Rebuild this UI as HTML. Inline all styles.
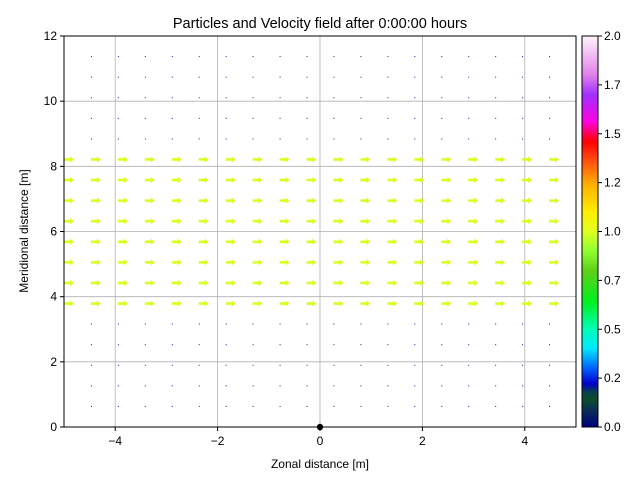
<!DOCTYPE html>
<html><head><meta charset="utf-8"><style>
html,body{margin:0;padding:0;background:#fff;}
svg{display:block;font-family:"Liberation Sans","DejaVu Sans",sans-serif;}
</style></head><body>
<svg id="chart" width="640" height="480" viewBox="0 0 640 480">
<defs>
<linearGradient id="cmap" x1="0" y1="1" x2="0" y2="0">
<stop offset="0" stop-color="#000080"/>
<stop offset="0.04" stop-color="#0b2a5a"/>
<stop offset="0.07" stop-color="#0b4d2a"/>
<stop offset="0.09" stop-color="#0a3f4f"/>
<stop offset="0.11" stop-color="#0000c8"/>
<stop offset="0.15" stop-color="#0060ff"/>
<stop offset="0.2" stop-color="#00e8ff"/>
<stop offset="0.25" stop-color="#00ffb8"/>
<stop offset="0.32" stop-color="#00f020"/>
<stop offset="0.4" stop-color="#5fd018"/>
<stop offset="0.45" stop-color="#90ff30"/>
<stop offset="0.5" stop-color="#e0ff20"/>
<stop offset="0.55" stop-color="#ffee00"/>
<stop offset="0.62" stop-color="#ffb000"/>
<stop offset="0.68" stop-color="#ff5010"/>
<stop offset="0.73" stop-color="#ff0000"/>
<stop offset="0.78" stop-color="#ff00e0"/>
<stop offset="0.85" stop-color="#a030ff"/>
<stop offset="0.9" stop-color="#e080e8"/>
<stop offset="1" stop-color="#fff4fc"/>
</linearGradient>
</defs>
<text x="320" y="28" font-size="14.5" text-anchor="middle">Particles and Velocity field after 0:00:00 hours</text>
<g id="grid"></g>
<g id="marks"></g>
<rect x="64" y="36" width="512" height="391" fill="none" stroke="#000" stroke-width="1"/>
<g id="ticks" font-size="12"></g>
<text x="320" y="468" font-size="12" text-anchor="middle">Zonal distance [m]</text>
<text x="28" y="231" font-size="12" text-anchor="middle" transform="rotate(-90 28 231)">Meridional distance [m]</text>
<rect x="582" y="36" width="16" height="391" fill="url(#cmap)" stroke="#000" stroke-width="1"/>
<g id="cbticks" font-size="12"></g>
</svg>
<script>
const xTicks=[-4,-2,0,2,4];
const yTicks=[0,2,4,6,8,10,12];
const cbTicks=["2.0","1.7","1.5","1.2","1.0","0.7","0.5","0.2","0.0"];
const cbVals=[2.0,1.75,1.5,1.25,1.0,0.75,0.5,0.25,0.0];
const nCols=19, nRows=19;
const fastRows=[6,7,8,9,10,11,12,13];
const fastSpeed=1.0;
const particleX=[0], particleY=[0];
const NS="http://www.w3.org/2000/svg";
const X0=64,X1=576,Y0=427,Y1=36;
const sx=v=>X0+(v+5)/10*(X1-X0);
const sy=v=>Y0-v/12*(Y0-Y1);
function mk(t,a,p){const e=document.createElementNS(NS,t);for(const k in a)e.setAttribute(k,a[k]);p.appendChild(e);return e;}
const grid=document.getElementById('grid'),marks=document.getElementById('marks'),ticks=document.getElementById('ticks'),cb=document.getElementById('cbticks');
xTicks.forEach(v=>{
 const l=mk('line',{x1:sx(v),x2:sx(v),y1:Y1,y2:Y0,stroke:'#b0b0b0','stroke-width':0.8},grid);
 
 
 mk('line',{x1:sx(v),x2:sx(v),y1:Y0,y2:Y0+4,stroke:'#000'},ticks);
 const t=mk('text',{x:sx(v),y:Y0+18,'text-anchor':'middle'},ticks);t.textContent=(v<0?'\u2212'+(-v):v);
 
 
});
yTicks.forEach(v=>{
 const l=mk('line',{x1:X0,x2:X1,y1:sy(v),y2:sy(v),stroke:'#b0b0b0','stroke-width':0.8},grid);
 
 
 mk('line',{x1:X0-4,x2:X0,y1:sy(v),y2:sy(v),stroke:'#000'},ticks);
 const t=mk('text',{x:X0-7,y:sy(v)+4,'text-anchor':'end'},ticks);t.textContent=v;
 
 
});
cbVals.forEach((v,i)=>{
 const y=Y0-v/2*(Y0-Y1);
 mk('line',{x1:598,x2:602,y1:y,y2:y,stroke:'#000'},cb);
 const t=mk('text',{x:604,y:y+4},cb);t.textContent=cbTicks[i];
 
 
});
for(let r=0;r<nRows;r++){for(let c=0;c<nCols;c++){
 const xv=-5+c*10/nCols, yv=r*12/nRows;
 const px=sx(xv),py=sy(yv);
 if(fastRows.includes(r)){
  const L=10*fastSpeed;
  const p=mk('polygon',{points:`${px},${py-1.3} ${px+L-4},${py-1.3} ${px+L-4},${py-3} ${px+L},${py} ${px+L-4},${py+3} ${px+L-4},${py+1.3} ${px},${py+1.3}`,fill:'#d7ff1f'},marks);
  
  
 } else if(r>0 && c>0){
  const d=mk('rect',{x:px,y:py-0.5,width:1,height:1,fill:'#1a1a9a'},marks);
  
  
 }
}}
particleX.forEach((v,i)=>{
 const c=mk('circle',{cx:sx(v),cy:sy(particleY[i]),r:3.2,fill:'#000'},marks);
 
 
});
</script>
</body></html>
